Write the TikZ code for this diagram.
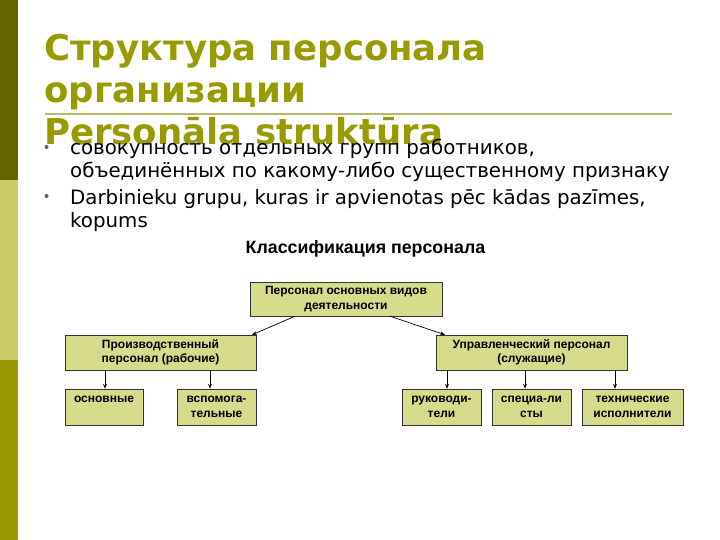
\documentclass[tikz,border=0pt]{standalone}
\usepackage{fontspec}
\setmainfont{DejaVu Sans}
\setsansfont{Liberation Sans}
\usepackage{xcolor}
\usetikzlibrary{arrows.meta,positioning}

\definecolor{olive1}{HTML}{666600}
\definecolor{olive2}{HTML}{CCCC66}
\definecolor{olive3}{HTML}{999900}
\definecolor{rulecol}{HTML}{B8B865}
\definecolor{boxfill}{HTML}{D6DC8C}
\definecolor{dotcol}{HTML}{666633}

\begin{document}
\begin{tikzpicture}[
    x=1pt, y=-1pt,
    >={Stealth[length=5pt,width=4pt]},
    ttl/.style={anchor=base west, inner sep=0pt, text=olive3,
        font=\bfseries\fontsize{35.5}{42}\selectfont},
    txt/.style={anchor=base west, inner sep=0pt,
        font=\fontsize{19.8}{23}\selectfont},
    dot/.style={circle, fill=dotcol, inner sep=0pt, minimum size=4pt},
    box/.style={draw=black!80, fill=boxfill, align=center, inner sep=0pt,
        font=\sffamily\bfseries\fontsize{12}{14.5}\selectfont},
    lnk/.style={->, line width=0.7pt}
]
    \useasboundingbox (0,0) rectangle (720,540);
    \fill[white] (0,0) rectangle (720,540);

    % left bar
    \fill[olive1] (0,0) rectangle (18,180);
    \fill[olive2] (0,180) rectangle (18,360);
    \fill[olive3] (0,360) rectangle (18,540);

    % title
    \node[ttl] (T1) at (44,61) {Структура персонала};
    \node[ttl] (T2) at (44,103) {организации};
    \node[ttl] (T3) at (44,145) {Personāla struktūra};
    \draw[rulecol, line width=1.5pt] (45,114) -- (672,114);

    % bullets
    \node[dot] (D1) at (46.5,147) {};
    \node[txt] (L1) at (70,155) {совокупность отдельных групп работников,};
    \node[txt] (L2) at (70,178) {объединённых по какому-либо существенному признаку};
    \node[dot] (D2) at (46.5,196) {};
    \node[txt] (L3) at (70,205) {Darbinieku grupu, kuras ir apvienotas pēc kādas pazīmes,};
    \node[txt] (L4) at (70,228) {kopums};

    % classification
    \node[anchor=base, inner sep=0pt, font=\sffamily\bfseries\fontsize{17.8}{20}\selectfont]
        (CL) at (365.5,253) {Классификация персонала};

    \node[box, minimum width=192pt, minimum height=34pt] (top) at (346,299)
        {Персонал основных видов\\деятельности};
    \node[box, minimum width=191pt, minimum height=35pt] (prod) at (160.5,352.5)
        {Производственный\\персонал (рабочие)};
    \node[box, minimum width=191pt, minimum height=35pt] (upr) at (531.5,352.5)
        {Управленческий персонал\\(служащие)};

    \node[box, minimum width=78pt, minimum height=36pt] (osn) at (104,407)
        {основные\\\mbox{}};
    \node[box, minimum width=79pt, minimum height=36pt] (vsp) at (216.5,407)
        {вспомога-\\тельные};
    \node[box, minimum width=79pt, minimum height=36pt] (ruk) at (441.5,407)
        {руководи-\\тели};
    \node[box, minimum width=79pt, minimum height=36pt] (spec) at (531.5,407)
        {специа-ли\\сты};
    \node[box, minimum width=101pt, minimum height=36pt] (tech) at (632.5,407)
        {технические\\исполнители};

    \draw[lnk] ([xshift=-51pt]top.south) -- ([xshift=91.5pt]prod.north);
    \draw[lnk] ([xshift=44pt]top.south) -- ([xshift=-86.5pt]upr.north);

    \draw[lnk] ([xshift=1pt]osn.north |- prod.south) -- ([xshift=1pt]osn.north);
    \draw[lnk] ([xshift=-6.5pt]vsp.north |- prod.south) -- ([xshift=-6.5pt]vsp.north);
    \draw[lnk] ([xshift=5.5pt]ruk.north |- upr.south) -- ([xshift=5.5pt]ruk.north);
    \draw[lnk] ([xshift=-6.5pt]spec.north |- upr.south) -- ([xshift=-6.5pt]spec.north);
    \draw[lnk] ([xshift=-17.5pt]tech.north |- upr.south) -- ([xshift=-17.5pt]tech.north);
\end{tikzpicture}
\end{document}
